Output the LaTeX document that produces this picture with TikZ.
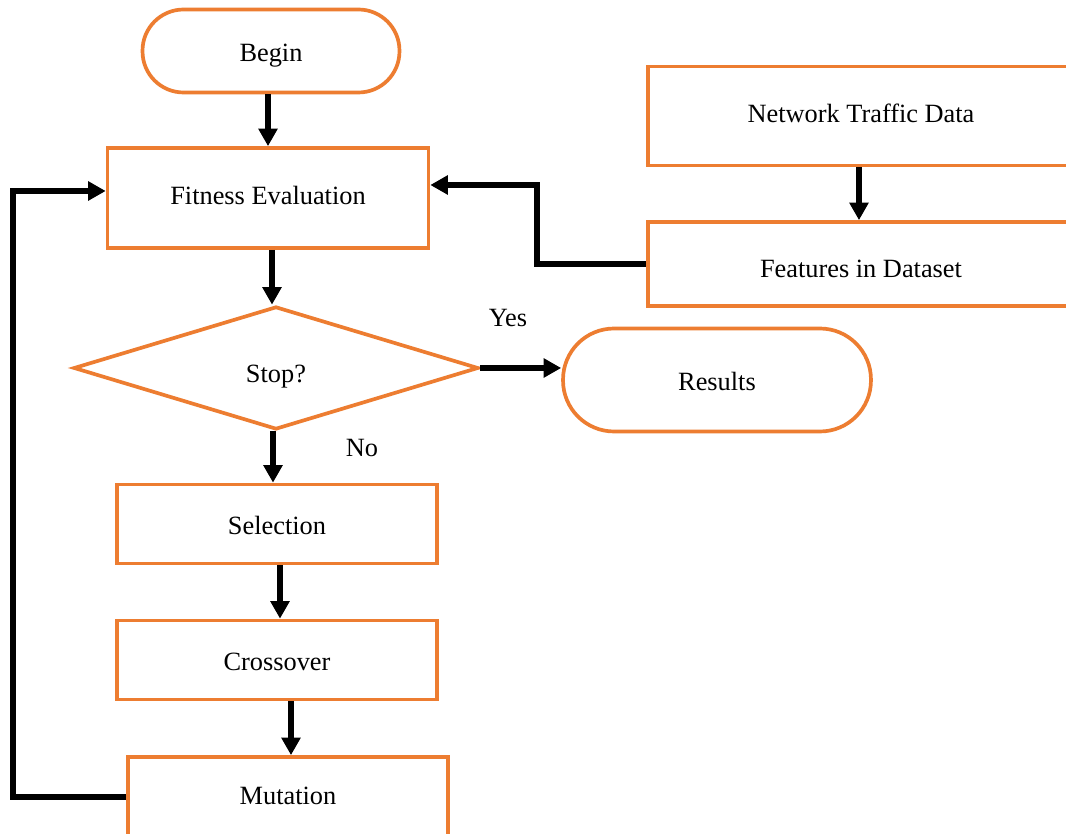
\documentclass[tikz,border=0pt]{standalone}
\usepackage{fontspec}
\setmainfont{Liberation Serif}
\usetikzlibrary{shapes.geometric,arrows.meta,calc}
\definecolor{boxorange}{HTML}{ED7D31}
\tikzset{
  box/.style={draw=boxorange, line width=2.1pt, fill=white, rectangle, inner sep=0pt,
    text height=1.05em, text depth=0.22em, font=\fontsize{15}{18}\selectfont},
  decision/.style={box, diamond, shape aspect=3},
  flow/.style={line width=3.4pt, -{Triangle[length=10pt,width=10.5pt]}},
  lbl/.style={font=\fontsize{15}{18}\selectfont, inner sep=0pt}
}
\begin{document}
\begin{tikzpicture}[x=0.02cm,y=-0.02cm]
  \clip (0,0) rectangle (1066,834);
  \fill[white] (0,0) rectangle (1066,834);

  % main loop of the genetic algorithm
  \node[box, rounded corners=0.82cm, minimum width=5.14cm, minimum height=1.66cm, text height=1.45em] (begin) at (271,51) {Begin};
  \node[box, minimum width=6.42cm, minimum height=2cm, text height=1.0em] (fit) at (268,198) {Fitness Evaluation};
  \node[decision, minimum width=8.1cm, minimum height=2.46cm, text height=1.83em] (stop) at (276,368) {Stop?};
  \node[box, rounded corners=1.02cm, minimum width=6.16cm, minimum height=2.06cm, text height=1.45em] (res) at (717,380) {Results};
  \node[box, minimum width=6.4cm, minimum height=1.58cm, text height=1.38em] (sel) at (277,524) {Selection};
  \node[box, minimum width=6.4cm, minimum height=1.58cm, text height=1.38em] (cross) at (277,660) {Crossover};
  \node[box, minimum width=6.4cm, minimum height=1.6cm, text height=1.08em] (mut) at (288,797) {Mutation};

  % data input branch
  \node[box, minimum width=8.52cm, minimum height=1.98cm, text height=1.0em] (net) at (861,116) {Network Traffic Data};
  \node[box, minimum width=8.52cm, minimum height=1.68cm, text height=1.75em] (feat) at (861,264) {Features in Dataset};

  \coordinate (loopx) at (13,0);
  \coordinate (feedx) at (537,0);
  \coordinate (fs) at ($(fit.south)+(4,0)$);

  \draw[flow] (begin.south -| fit.north) -- (fit.north);
  \draw[flow] (fs) -- (fs |- stop.north);
  \draw[flow] (stop.east) -- (stop.east -| res.west);
  \draw[flow] ($(stop.south)+(-3,0)$) -- ($(sel.north)+(-4,0)$);
  \draw[flow] ($(sel.south)+(3,0)$) -- ($(cross.north)+(3,0)$);
  \draw[flow] (cross.south -| mut.north) ++(3,0) -- ($(mut.north)+(3,0)$);
  \draw[flow] (mut.west) -- (mut.west -| loopx) |- ($(fit.west)+(0,-7)$);
  \draw[flow] (net.south) ++(-2,0) -- ($(feat.north)+(-2,0)$);
  \draw[flow] (feat.west) -- (feat.west -| feedx) |- ($(fit.east)+(0,-13)$);

  \node[lbl] (yes) at (508,318) {Yes};
  \node[lbl] (no) at (362,448) {No};
\end{tikzpicture}
\end{document}
